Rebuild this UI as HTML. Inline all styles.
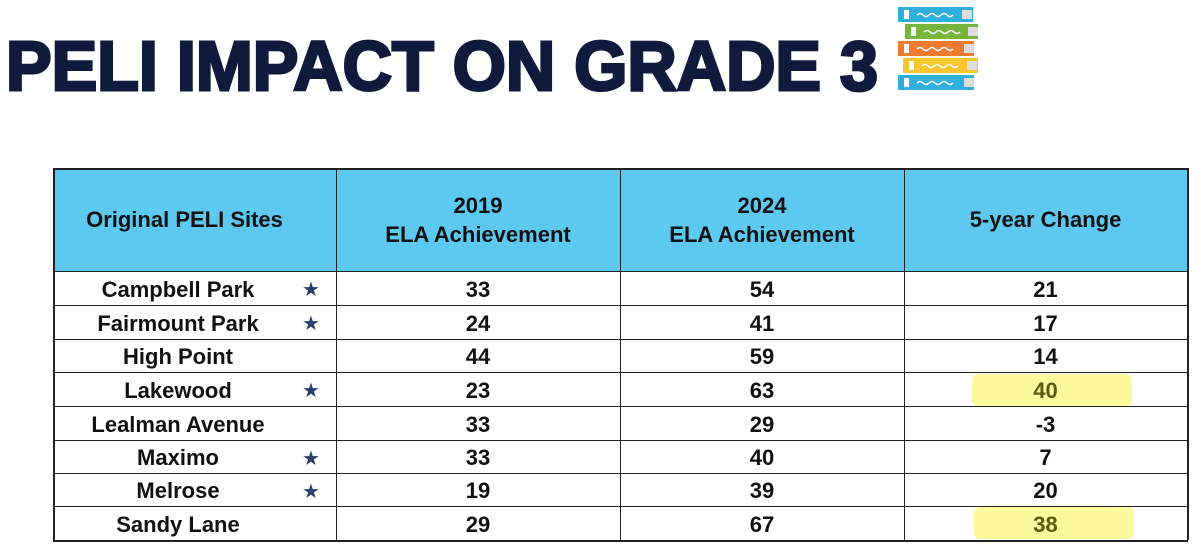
<!DOCTYPE html>
<html><head><meta charset="utf-8"><style>
body{margin:0;width:1200px;height:551px;background:#fff;position:relative;overflow:hidden;font-family:"Liberation Sans",sans-serif}
.abs{position:absolute}
.cell{position:absolute;display:flex;align-items:center;justify-content:center;font-weight:bold;font-size:22px;color:#111;text-align:center;line-height:1.3;padding-top:4px;box-sizing:border-box}
.hl{position:absolute;background:#fbf99c;border-radius:6px}
.vl{position:absolute;width:1px;background:#222}
.hline{position:absolute;height:1px;background:#222}
.star{position:absolute;color:#2b3f6b;font-size:20px}
</style></head><body>
<svg class="abs" style="left:0;top:0" width="1000" height="110">
<text x="6" y="90" textLength="872" lengthAdjust="spacingAndGlyphs" font-family="Liberation Sans" font-weight="bold" font-size="70" fill="#0f1a3c" stroke="#0f1a3c" stroke-width="3">PELI IMPACT ON GRADE 3</text>
<g>
<rect x="898" y="7" width="75" height="15" fill="#2fb0dc"/><rect x="904" y="10" width="5" height="9" fill="#fff"/><rect x="962" y="10" width="10" height="9" fill="#ddd"/>
<rect x="905" y="24" width="73" height="15" fill="#76b43b"/><rect x="911" y="27" width="5" height="9" fill="#fff"/><rect x="968" y="27" width="10" height="9" fill="#ddd"/>
<rect x="898" y="41" width="76" height="15" fill="#ee7a30"/><rect x="904" y="44" width="5" height="9" fill="#fff"/><rect x="964" y="44" width="10" height="9" fill="#ddd"/>
<rect x="903" y="58" width="75" height="15" fill="#f6c530"/><rect x="909" y="61" width="5" height="9" fill="#fff"/><rect x="967" y="61" width="10" height="9" fill="#ddd"/>
<rect x="898" y="75" width="76" height="15" fill="#2fb0dc"/><rect x="904" y="78" width="5" height="9" fill="#fff"/><rect x="964" y="78" width="10" height="9" fill="#ddd"/>
<g stroke="#fff" stroke-width="1.5" fill="none">
<path d="M917 15 q3 -3 6 0 t6 0 t6 0 t6 0 t6 0 t6 0"/><path d="M924 32 q3 -3 6 0 t6 0 t6 0 t6 0 t6 0 t6 0"/><path d="M917 49 q3 -3 6 0 t6 0 t6 0 t6 0 t6 0 t6 0"/><path d="M922 66 q3 -3 6 0 t6 0 t6 0 t6 0 t6 0 t6 0"/><path d="M917 83 q3 -3 6 0 t6 0 t6 0 t6 0 t6 0 t6 0"/></g></g>
</svg>
<div class="abs" style="left:53px;top:168px;width:1134px;height:103px;background:#5dc8f0"></div>
<div class="hl" style="left:972px;top:374px;width:160px;height:32px"></div>
<div class="hl" style="left:974px;top:507px;width:160px;height:32px"></div>
<div id="t"></div>
<script>
const sites=["Campbell Park","Fairmount Park","High Point","Lakewood","Lealman Avenue","Maximo","Melrose","Sandy Lane"];
const starred=[1,1,0,1,0,1,1,0];
const v2019=[33,24,44,23,33,33,19,29];
const v2024=[54,41,59,63,29,40,39,67];
const change=[21,17,14,40,-3,7,20,38];
const highlighted=[0,0,0,1,0,0,0,1];
const cols=[53,336,620,904,1187];
const rows=[168,271,305,339,372,406,440,473,506,540];
function add(cls,style,html,name){const d=document.createElement('div');d.className=cls;d.style.cssText=style;if(html!=null)d.innerHTML=html;


document.body.appendChild(d);return d;}
cols.forEach((x,i)=>add('vl',`left:${x}px;top:168px;height:372px;${i==0||i==4?'width:2px;':''}`,null,'column-border'));
rows.forEach((y,i)=>add('hline',`left:53px;top:${y}px;width:1135px;${i==0||i==9?'height:2px;':''}`,null,'row-border'));
const heads=["Original PELI Sites","2019<br>ELA Achievement","2024<br>ELA Achievement","5-year Change"];
heads.forEach((h,i)=>add('cell',`left:${cols[i]}px;top:168px;width:${cols[i+1]-cols[i]}px;height:103px;font-size:22px;padding-top:2px;`+(i==0?'padding-right:20px;':''),h,'header-cell'));
sites.forEach((s,r)=>{const y=rows[r+1],h=rows[r+2]-y;
add('cell',`left:53px;top:${y}px;width:250px;height:${h}px`,s,'site-name');
if(starred[r])add('star',`left:302px;top:${y+6}px`,'★','star-icon');
add('cell',`left:336px;top:${y}px;width:284px;height:${h}px`,v2019[r],'value-2019');
add('cell',`left:620px;top:${y}px;width:284px;height:${h}px`,v2024[r],'value-2024');
add('cell',`left:904px;top:${y}px;width:283px;height:${h}px;${highlighted[r]?'color:#5a5a10':''}`,change[r],'value-change');});
</script>
</body></html>
